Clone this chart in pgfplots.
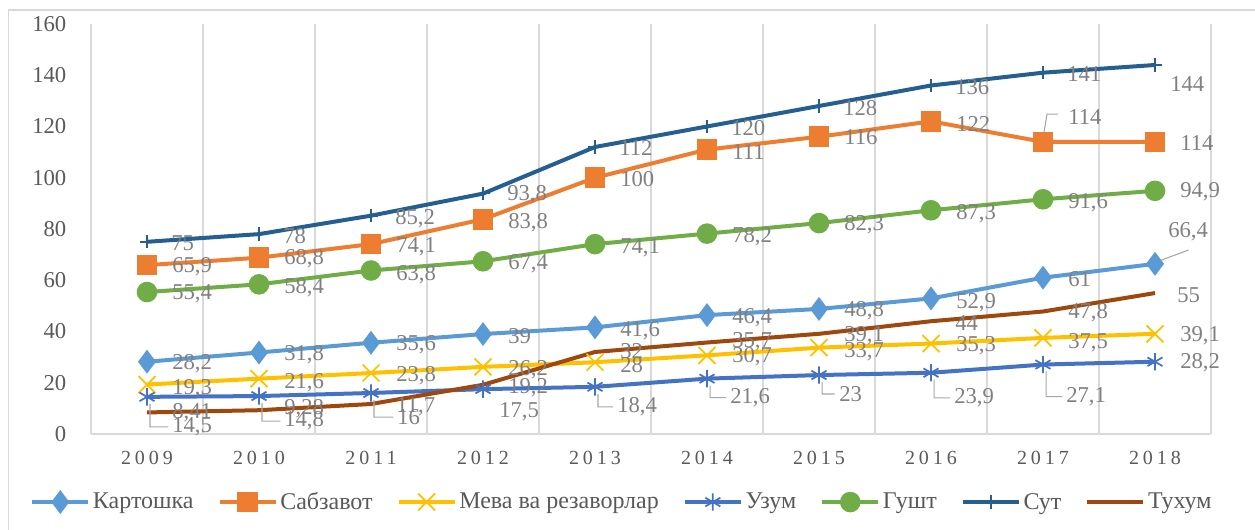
\documentclass[border=0pt]{standalone}
\usepackage{pgfplots}
\pgfplotsset{compat=1.18}
\usepackage{pgfplotstable}
\usepackage{fontspec}
\setmainfont{Liberation Serif}
\newfontfamily\spacedfont[LetterSpace=20]{Liberation Serif}

\definecolor{cK}{HTML}{5B9BD5}
\definecolor{cB}{HTML}{ED7D31}
\definecolor{cM}{HTML}{FFC000}
\definecolor{cU}{HTML}{4472C4}
\definecolor{cG}{HTML}{70AD47}
\definecolor{cS}{HTML}{255E91}
\definecolor{cT}{HTML}{9E480E}
\definecolor{tickgray}{HTML}{595959}
\definecolor{labgray}{HTML}{808080}
\definecolor{gridgray}{HTML}{D9D9D9}
\definecolor{leadgray}{HTML}{A6A6A6}

\pgfplotstableread{
x y lab dx dy
2009 28.2 28,2 25 -2
2010 31.8 31,8 25 -2
2011 35.6 35,6 25 -2
2012 39 39 25 -2
2013 41.6 41,6 25 -3
2014 46.4 46,4 25 -3
2015 48.8 48,8 25 -2
2016 52.9 52,9 25 -4
2017 61 61 25 -1
2018 66.4 66,4 13 32
}\tK
\pgfplotstableread{
x y lab dx dy
2009 65.9 65,9 25 -2
2010 68.8 68,8 25 -1
2011 74.1 74,1 25 -3
2012 83.8 83,8 25 -3
2013 100 100 25 -1
2014 111 111 25 -2
2015 116 116 25 0
2016 122 122 25 -3
2017 114 114 25 25
2018 114 114 25 -1
}\tB
\pgfplotstableread{
x y lab dx dy
2009 19.3 19,3 25 -4
2010 21.6 21,6 25 -4
2011 23.8 23,8 25 -3
2012 26.2 26,2 25 -3
2013 28 28 25 -3
2014 30.7 30,7 25 -1
2015 33.7 33,7 25 -4
2016 35.3 35,3 25 -2
2017 37.5 37,5 25 -5
2018 39.1 39,1 25 -2
}\tM
\pgfplotstableread{
x y lab dx dy
2009 14.5 14,5 25 -30
2010 14.8 14,8 25 -25
2011 16 16 26 -24
2012 17.5 17,5 16 -23
2013 18.4 18,4 22 -20
2014 21.6 21,6 23 -19
2015 23 23 20 -19
2016 23.9 23,9 23 -25
2017 27.1 27,1 23 -32
2018 28.2 28,2 25 -1
}\tU
\pgfplotstableread{
x y lab dx dy
2009 55.4 55,4 25 -2
2010 58.4 58,4 25 -3
2011 63.8 63,8 25 -4
2012 67.4 67,4 25 -2
2013 74.1 74,1 25 -4
2014 78.2 78,2 25 -3
2015 82.3 82,3 25 -2
2016 87.3 87,3 25 -3
2017 91.6 91,6 25 -3
2018 94.9 94,9 25 -1
}\tG
\pgfplotstableread{
x y lab dx dy
2009 75 75 24 -1
2010 78 78 24 -2
2011 85.2 85,2 24 -3
2012 93.8 93,8 24 -1
2013 112 112 24 -1
2014 120 120 24 -2
2015 128 128 24 -2
2016 136 136 24 -2
2017 141 141 24 -1
2018 144 144 15 -19
}\tS
\pgfplotstableread{
x y lab dx dy
2009 8.41 8,41 25 0
2010 9.28 9,28 25 2
2011 11.7 11,7 25 -3
2012 19.2 19,2 25 -3
2013 32 32 25 1
2014 35.7 35,7 25 1
2015 39.1 39,1 25 -2
2016 44 44 24 -2
2017 47.8 47,8 25 -1
2018 55 55 22 -2
}\tT

\pgfplotsset{
  lbl/.style={draw=none, mark=none, forget plot,
    nodes near coords, point meta=explicit symbolic,
    visualization depends on={\thisrow{dx}\as\dx},
    visualization depends on={\thisrow{dy}\as\dy},
    every node near coord/.append style={anchor=west, inner sep=0pt,
      xshift=\dx*0.75pt, yshift=\dy*0.75pt, text=labgray,
      font=\fontsize{17}{20}\selectfont}},
  ser/.style={line width=3pt, mark options={solid}},
}

\begin{document}
\begin{tikzpicture}
\useasboundingbox (-68.25pt,-72pt) rectangle (873pt,325.5pt);
\draw[gridgray, line width=1pt] (-62pt,-90pt) -- (-62pt,318pt) -- (890pt,318pt);
\begin{axis}[
  at={(0,0)}, anchor=south west, scale only axis,
  width=840pt, height=307.5pt,
  xmin=2008.5, xmax=2018.5, ymin=0, ymax=160,
  clip=false,
  axis x line*=bottom, axis y line*=left,
  x axis line style={draw=gridgray, line width=1pt, -},
  y axis line style={draw=none},
  xtick={2009,2010,2011,2012,2013,2014,2015,2016,2017,2018},
  xticklabels={2009,2010,2011,2012,2013,2014,2015,2016,2017,2018},
  minor xtick={2008.5,2009.5,2010.5,2011.5,2012.5,2013.5,2014.5,2015.5,2016.5,2017.5,2018.5},
  xminorgrids=true,
  minor grid style={draw=gridgray, line width=1pt},
  major tick length=0pt, minor tick length=0pt,
  ytick={0,20,...,160},
  /pgf/number format/assume math mode=true,
  xticklabel style={font=\spacedfont\fontsize{15}{17}\selectfont, text=tickgray, yshift=-9pt},
  yticklabel style={font=\fontsize{17}{20}\selectfont, text=tickgray, xshift=-15pt},
  legend columns=-1,
  legend style={at={(-0.058,-0.166)}, anchor=west, draw=none, fill=none,
    font=\fontsize{18}{21}\selectfont, text=tickgray,
    nodes={inner xsep=2pt},
    /tikz/every even column/.append style={column sep=16pt}},
  legend cell align=left,
  legend image code/.code={\draw[mark repeat=2,mark phase=2] plot coordinates {(0pt,0pt) (21pt,0pt) (42pt,0pt)};},
]
\addplot[ser, cK, mark=diamond*, mark size=6.5pt] table[x=x,y=y]{\tK};
\addlegendentry{Картошка}
\addplot[ser, cB, mark=square*, mark size=6.2pt] table[x=x,y=y]{\tB};
\addlegendentry{Сабзавот}
\addplot[ser, cM, mark=x, mark size=9pt, mark options={line width=1.3pt}] table[x=x,y=y]{\tM};
\addlegendentry{Мева ва резаворлар}
\addplot[ser, cU, mark=asterisk, mark size=6.5pt, mark options={line width=1.3pt}] table[x=x,y=y]{\tU};
\addlegendentry{Узум}
\addplot[ser, cG, mark=*, mark size=6.2pt] table[x=x,y=y]{\tG};
\addlegendentry{Гушт}
\addplot[ser, cS, mark=+, mark size=5pt, mark options={line width=1.3pt}] table[x=x,y=y]{\tS};
\addlegendentry{Сут}
\addplot[ser, cT, mark=none] table[x=x,y=y]{\tT};
\addlegendentry{Тухум}

\addplot[leadgray, line width=0.8pt, forget plot, unbounded coords=jump, mark=none] coordinates {
(2009.027,11.8) (2009.027,2.8) (2009.19,2.8) (2009.5,nan)
(2010.027,12.1) (2010.027,5.0) (2010.19,5.0) (2010.5,nan)
(2011.027,13.3) (2011.027,6.6) (2011.20,6.6) (2011.5,nan)
(2013.027,15.7) (2013.027,10.6) (2013.16,10.6) (2013.5,nan)
(2014.027,18.9) (2014.027,14.2) (2014.17,14.2) (2014.5,nan)
(2015.027,20.3) (2015.027,15.6) (2015.14,15.6) (2015.5,nan)
(2016.027,21.2) (2016.027,14.1) (2016.17,14.1) (2016.5,nan)
(2017.027,24.4) (2017.027,14.6) (2017.17,14.6) (2017.5,nan)
(2017.0,115.5) (2017.036,124.8) (2017.134,124.8) (2017.5,nan)
(2018.01,67.1) (2018.30,71.8)
};

\addplot[lbl] table[x=x,y=y,meta=lab]{\tK};
\addplot[lbl] table[x=x,y=y,meta=lab]{\tB};
\addplot[lbl] table[x=x,y=y,meta=lab]{\tM};
\addplot[lbl] table[x=x,y=y,meta=lab]{\tU};
\addplot[lbl] table[x=x,y=y,meta=lab]{\tG};
\addplot[lbl] table[x=x,y=y,meta=lab]{\tS};
\addplot[lbl] table[x=x,y=y,meta=lab]{\tT};
\end{axis}
\end{tikzpicture}
\end{document}
